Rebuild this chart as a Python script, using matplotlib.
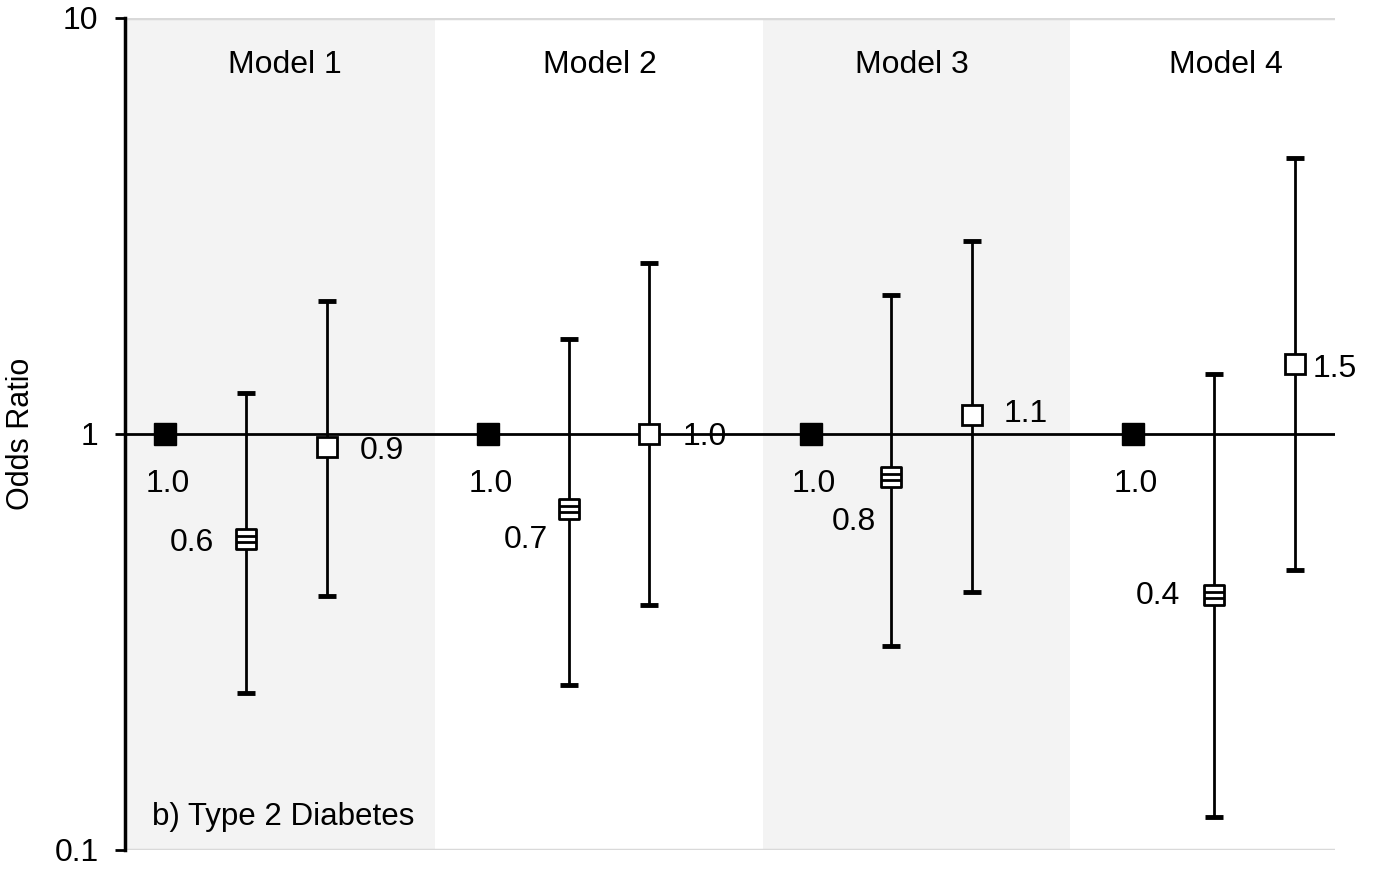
import numpy as np
import matplotlib
matplotlib.use("Agg")
import matplotlib.pyplot as plt
from matplotlib.path import Path

plt.rcParams['font.family'] = ['Liberation Sans', 'DejaVu Sans']

models = ["Model 1", "Model 2", "Model 3", "Model 4"]

# odds ratios and 95% CI per model: reference, middle group, top group
ref_or = [1.0, 1.0, 1.0, 1.0]
mid_or = [0.56, 0.66, 0.79, 0.41]
mid_lo = [0.238, 0.249, 0.31, 0.12]
mid_hi = [1.255, 1.69, 2.16, 1.39]
top_or = [0.93, 1.0, 1.11, 1.47]
top_lo = [0.408, 0.388, 0.417, 0.471]
top_hi = [2.09, 2.58, 2.91, 4.61]

# x slots (3 per model, one blank between models)
ref_x = np.array([0.5, 4.5, 8.5, 12.5])
mid_x = ref_x + 1
top_x = ref_x + 2

# label offsets in points
mid_off = [(-39, -3), (-31, -22), (-27, -33), (-40, -1)]
top_off = [(40, -3), (40, -2), (39, 1), (29, -3)]

fig = plt.figure(figsize=(13.75, 8.69), dpi=100)
ax = fig.add_axes([0.0909, 0.0219, 0.88, 0.9574])
ax.set_yscale('log')
ax.set_ylim(0.1, 10)
ax.set_xlim(0, 15)

# shaded bands for model 1 and 3
ax.axvspan(0, 3.84, color='#f3f3f3', zorder=0, lw=0)
ax.axvspan(7.91, 11.71, color='#f3f3f3', zorder=0, lw=0)

ax.axhline(10, color='#d9d9d9', lw=2.5, zorder=1)
ax.axhline(0.1, color='#d9d9d9', lw=2.5, zorder=1)
ax.axhline(1, color='black', lw=2, zorder=2)

# hatched square marker
verts = [(-1, -1), (1, -1), (1, 1), (-1, 1), (-1, -1),
         (-1, -0.33), (1, -0.33), (-1, 0.33), (1, 0.33)]
codes = [Path.MOVETO, Path.LINETO, Path.LINETO, Path.LINETO, Path.CLOSEPOLY,
         Path.MOVETO, Path.LINETO, Path.MOVETO, Path.LINETO]
hatch_sq = Path(verts, codes)

mid_err = [np.array(mid_or) - np.array(mid_lo), np.array(mid_hi) - np.array(mid_or)]
top_err = [np.array(top_or) - np.array(top_lo), np.array(top_hi) - np.array(top_or)]

ax.errorbar(mid_x, mid_or, yerr=mid_err, fmt='none', ecolor='black', elinewidth=2,
            capsize=6.5, capthick=3.5, zorder=3)
ax.errorbar(top_x, top_or, yerr=top_err, fmt='none', ecolor='black', elinewidth=2,
            capsize=6.5, capthick=3.5, zorder=3)

ax.plot(ref_x, ref_or, 's', color='black', ms=15.5, ls='none', zorder=4)
ax.plot(mid_x, mid_or, marker=hatch_sq, ms=14.5, mfc='white', mec='black', mew=2,
        ls='none', zorder=4)
ax.plot(top_x, top_or, 's', ms=14.5, mfc='white', mec='black', mew=2, ls='none', zorder=4)

for i in range(4):
    ax.annotate(f"{ref_or[i]:.1f}", (ref_x[i], ref_or[i]), xytext=(2, -36),
                textcoords='offset points', ha='center', va='center', fontsize=23)
    ax.annotate(f"{mid_or[i]:.1f}", (mid_x[i], mid_or[i]), xytext=mid_off[i],
                textcoords='offset points', ha='center', va='center', fontsize=23)
    ax.annotate(f"{top_or[i]:.1f}", (top_x[i], top_or[i]), xytext=top_off[i],
                textcoords='offset points', ha='center', va='center', fontsize=23)

model_x = [1.98, 5.89, 9.76, 13.65]
for mx, name in zip(model_x, models):
    ax.text(mx, 0.943, name, transform=ax.get_xaxis_transform(), ha='center',
            va='center', fontsize=23)

ax.text(0.33, 0.04, "b) Type 2 Diabetes", transform=ax.get_xaxis_transform(),
        ha='left', va='center', fontsize=22.5)

ax.set_yticks([0.1, 1, 10])
ax.set_yticklabels(["0.1", "1", "10"])
ax.yaxis.set_minor_locator(matplotlib.ticker.NullLocator())
ax.tick_params(axis='y', labelsize=23, length=7, width=2, direction='out', pad=12)
ax.set_xticks([])
ax.set_ylabel("Odds Ratio", fontsize=22, labelpad=13)

for s in ['top', 'right', 'bottom']:
    ax.spines[s].set_visible(False)
ax.spines['left'].set_linewidth(2.5)

fig.savefig("out.png", dpi=100)
